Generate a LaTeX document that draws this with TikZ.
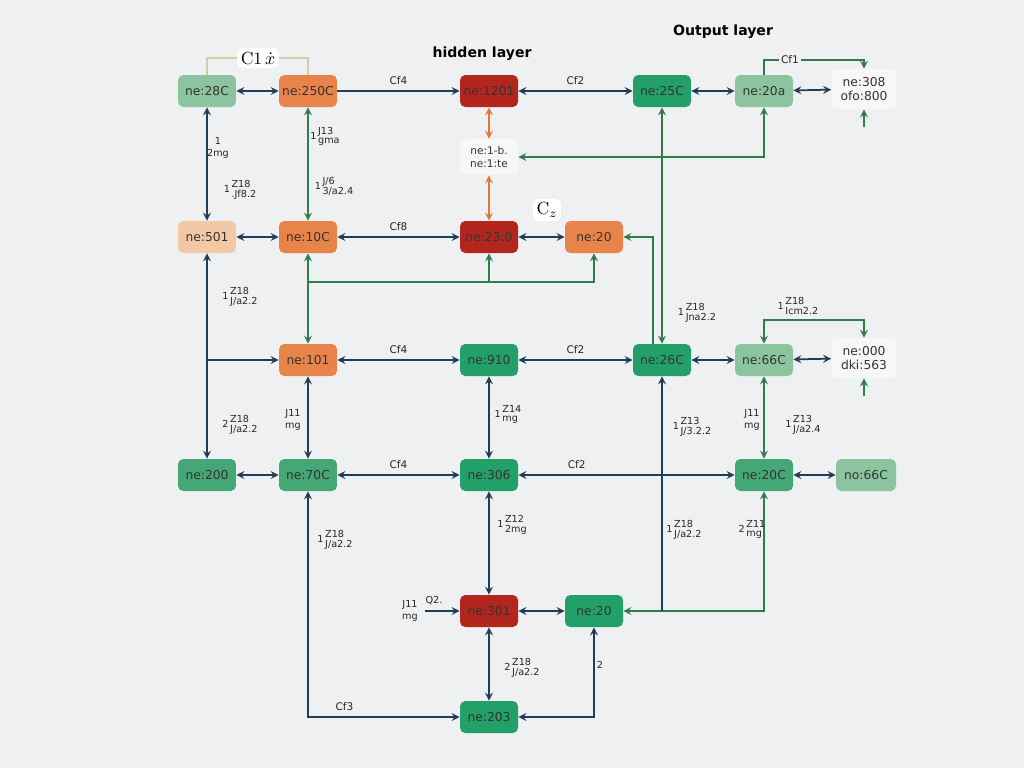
\documentclass[tikz,border=0pt]{standalone}
\usepackage{fontspec}
\setsansfont{DejaVu Sans}
\usetikzlibrary{arrows}
\definecolor{bg}{HTML}{EEF0F1}
\definecolor{navy}{HTML}{1E3D59}
\definecolor{grn}{HTML}{2E7D4A}
\definecolor{org}{HTML}{E07A38}
\definecolor{tanline}{HTML}{D9CBA8}
\definecolor{cred}{HTML}{B3261E}
\definecolor{corg}{HTML}{E8844A}
\definecolor{cgrn}{HTML}{22A067}
\definecolor{cmid}{HTML}{45A676}
\definecolor{clgt}{HTML}{8CC4A0}
\definecolor{cpch}{HTML}{F3C8A4}
\definecolor{cwht}{HTML}{F7F7F5}
\newcommand{\wstack}[3]{#1\,\begin{tabular}{@{}l@{}}#2\\#3\end{tabular}}
\tikzset{
	unit/.style={rounded corners=3pt, minimum width=1.16cm, minimum height=0.64cm, inner sep=1pt, text=black!80, font=\sffamily\fontsize{7}{8}\selectfont},
	redunit/.style={unit, fill=cred},
	orgunit/.style={unit, fill=corg},
	grnunit/.style={unit, fill=cgrn},
	midunit/.style={unit, fill=cmid},
	lgtunit/.style={unit, fill=clgt},
	pchunit/.style={unit, fill=cpch},
	whtunit/.style={unit, fill=cwht, align=center, minimum width=1.3cm, minimum height=0.8cm},
	wlab/.style={font=\sffamily\fontsize{5.5}{6}\selectfont\renewcommand{\arraystretch}{0.85}, inner sep=1pt, text=black!85},
	clab/.style={font=\sffamily\fontsize{6}{7}\selectfont, inner sep=1pt, text=black!85},
	nav/.style={navy, line width=1pt},
	gr/.style={grn, line width=1pt},
	og/.style={org, line width=1pt}
}
\begin{document}
\begin{tikzpicture}[x=0.02cm, y=-0.02cm, >=stealth]
		\fill [bg] (0,0) rectangle (1024,768);
		\useasboundingbox (0,0) rectangle (1024,768);
		\node [font=\sffamily\bfseries\fontsize{8}{9}\selectfont] (hid) at (482,54) {hidden layer};
		\node [font=\sffamily\bfseries\fontsize{8}{9}\selectfont] (outl) at (723,32) {Output layer};

		\node [lgtunit] (a1) at (207,91) {ne:28C};
		\node [orgunit] (a2) at (308,91) {ne:250C};
		\node [redunit] (a3) at (489,91) {ne:1201};
		\node [grnunit] (a4) at (662,91) {ne:25C};
		\node [lgtunit] (a5) at (764,91) {ne:20a};
		\node [whtunit] (a6) at (864,89) {ne:308\\ofo:800};
		\node [whtunit, minimum width=1.16cm, minimum height=0.72cm, font=\sffamily\fontsize{6}{7}\selectfont] (b) at (489,157) {ne:1-b.\\ne:1:te};
		\node [pchunit] (c1) at (207,237) {ne:501};
		\node [orgunit] (c2) at (308,237) {ne:10C};
		\node [redunit] (c3) at (489,237) {ne:23:0};
		\node [orgunit] (c4) at (594,237) {ne:20};
		\node [orgunit] (d2) at (308,360) {ne:101};
		\node [grnunit] (d3) at (489,360) {ne:910};
		\node [grnunit] (d4) at (662,360) {ne:26C};
		\node [lgtunit] (d5) at (764,360) {ne:66C};
		\node [whtunit] (d6) at (864,358) {ne:000\\dki:563};
		\node [midunit] (e1) at (207,475) {ne:200};
		\node [midunit] (e2) at (308,475) {ne:70C};
		\node [grnunit] (e3) at (489,475) {ne:306};
		\node [midunit] (e5) at (764,475) {ne:20C};
		\node [lgtunit, minimum width=1.2cm] (e6) at (866,475) {no:66C};
		\node [redunit] (f3) at (489,611) {ne:301};
		\node [grnunit] (f4) at (594,611) {ne:20};
		\node [grnunit] (g3) at (489,717) {ne:203};

		\node [fill=white, rounded corners=3pt, inner sep=2pt, font=\fontsize{10}{11}\selectfont] (ck) at (258,58) {C1\,$\dot{x}$};
		\draw [tanline, line width=1pt] (a1.north) |- (ck.west) (ck.east) -| (a2.north);
		\node [fill=white, rounded corners=3pt, inner sep=2pt, font=\fontsize{10}{11}\selectfont] (cz) at (547,210) {C$_{z}$};

		\draw [nav, <->] (a1) -- (a2);
		\draw [nav, ->] (a2) -- (a3) node[clab, midway, above=2pt] {Cf4};
		\draw [nav, <->] (a3) -- (a4) node[clab, midway, above=2pt] {Cf2};
		\draw [nav, <->] (a4) -- (a5);
		\draw [nav, <->] (a5) -- (a6);
		\draw [gr, ->] (a5.north) -- ++(0,-15) -| (a6.north);
		\node [clab, fill=bg] (cf1) at (790,60) {Cf1};
		\coordinate (s1) at ([yshift=-0.36cm]a6.south);
		\draw [gr, ->] (s1) -- (a6.south);

		\draw [nav, <->] (a1) -- (c1);
		\draw [gr, <->] (a2) -- (c2);
		\draw [og, <->] (a3) -- (b);
		\draw [og, <->] (b) -- (c3);
		\draw [gr, <->] (a4.south) -- (d4.north);
		\draw [gr, ->] ([xshift=-0.18cm]d4.north) |- (c4.east);
		\draw [gr, <->] (b.east) -| (a5.south);

		\draw [nav, <->] (c1) -- (c2);
		\draw [nav, <->] (c2) -- (c3) node[clab, midway, above=2pt] {Cf8};
		\draw [nav, <->] (c3) -- (c4);
		\coordinate (j1) at (308,282);
		\draw [gr, <->] (c2) -- (d2);
		\draw [gr, ->] (j1) -| (c4.south);
		\draw [gr, ->] (j1 -| c3) -- (c3.south);
		\draw [nav, <->] (c1) -- (e1);
		\draw [nav, ->] (c1 |- d2) -- (d2);

		\draw [nav, <->] (d2) -- (d3) node[clab, midway, above=2pt] {Cf4};
		\draw [nav, <->] (d3) -- (d4) node[clab, midway, above=2pt] {Cf2};
		\draw [nav, <->] (d4) -- (d5);
		\draw [nav, <->] (d5) -- (d6);
		\draw [gr, <->] (d5.north) -- ++(0,-24) -| (d6.north);
		\coordinate (s2) at ([yshift=-0.36cm]d6.south);
		\draw [gr, ->] (s2) -- (d6.south);
		\draw [nav, <->] (d2) -- (e2);
		\draw [nav, <->] (d3) -- (e3);
		\draw [gr, <->] (d5) -- (e5);
		\draw [gr, <->] (f4.east) -| (e5.south);
		\draw [nav, <-] (d4.south) -- (d4.south |- f4);

		\draw [nav, <->] (e1) -- (e2);
		\draw [nav, <->] (e2) -- (e3) node[clab, midway, above=2pt] {Cf4};
		\draw [nav, <->] (e3) -- (e5) node[clab, pos=0.27, above=2pt] {Cf2};
		\draw [nav, <->] (e5) -- (e6);
		\draw [nav, <->] (e2.south) |- (g3.west) node[clab, pos=0.62, above=2pt] {Cf3};
		\draw [nav, <->] (e3) -- (f3);
		\draw [nav, <->] (f3) -- (f4);
		\draw [nav, <->] (f3) -- (g3);
		\draw [nav, <->] (g3.east) -| (f4.south);
		\coordinate (s3) at (425,611);
		\draw [nav, ->] (s3) -- (f3.west);

		% weight labels
		\node [wlab] (w1) at (218,148) {\shortstack{1\\2mg}};
		\node [wlab] (w2) at (240,190) {\wstack{1}{Z18}{.Jf8.2}};
		\node [wlab] (w3) at (325,137) {\wstack{1}{J13}{gma}};
		\node [wlab] (w4) at (334,187) {\wstack{1}{J/6}{3/a2.4}};
		\node [wlab] (w5) at (240,297) {\wstack{1}{Z18}{J/a2.2}};
		\node [wlab] (w6) at (240,425) {\wstack{2}{Z18}{J/a2.2}};
		\node [wlab] (w7) at (697,313) {\wstack{1}{Z18}{Jna2.2}};
		\node [wlab] (w8) at (798,307) {\wstack{1}{Z18}{Icm2.2}};
		\node [wlab] (w9) at (293,420) {\shortstack{J11\\mg}};
		\node [wlab] (w10) at (508,415) {\wstack{1}{Z14}{mg}};
		\node [wlab] (w11) at (692,427) {\wstack{1}{Z13}{J/3.2.2}};
		\node [wlab] (w12) at (752,420) {\shortstack{J11\\mg}};
		\node [wlab] (w13) at (803,425) {\wstack{1}{Z13}{J/a2.4}};
		\node [wlab] (w14) at (335,540) {\wstack{1}{Z18}{J/a2.2}};
		\node [wlab] (w15) at (512,525) {\wstack{1}{Z12}{2mg}};
		\node [wlab] (w16) at (684,530) {\wstack{1}{Z18}{J/a2.2}};
		\node [wlab] (w17) at (752,530) {\wstack{2}{Z11}{mg}};
		\node [wlab] (w18) at (410,611) {\shortstack{J11\\mg}};
		\node [wlab] (w19) at (434,601) {Q2.};
		\node [wlab] (w20) at (522,668) {\wstack{2}{Z18}{J/a2.2}};
		\node [wlab] (w21) at (600,665) {2};
\end{tikzpicture}
\end{document}
